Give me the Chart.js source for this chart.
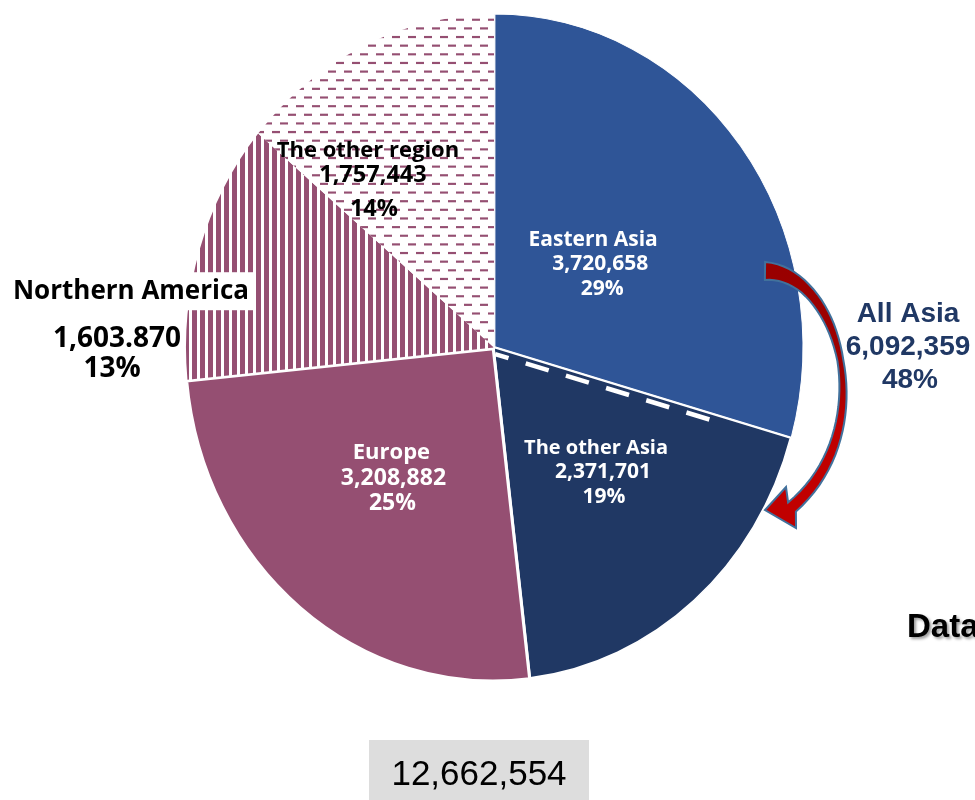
<!DOCTYPE html>
<html>
<head>
<meta charset="utf-8">
<title>Visitors by region</title>
<script src="https://cdn.jsdelivr.net/npm/chart.js@4.4.1/dist/chart.umd.min.js"></script>
<style>
  html, body { margin: 0; padding: 0; background: #fff; }
  #wrap { width: 975px; height: 800px; overflow: hidden; }
</style>
</head>
<body>
<div id="wrap"><canvas id="pie" width="975" height="800"></canvas></div>
<script>
const regions = ['Eastern Asia', 'The other Asia', 'Europe', 'Northern America', 'The other region'];
const visitors = [3720658, 2371701, 3208882, 1603870, 1757443];
// value text as printed on the slide (Northern America has a dot)
const visitorText = ['3,720,658', '2,371,701', '3,208,882', '1,603.870', '1,757,443'];
const asiaSlices = [0, 1];
const asiaTitle = 'All Asia';
const sourceWord = 'Data';

const BLUE = '#2f5597', NAVY = '#203864', PLUM = '#954f72';
const SY = 1.08; // the pie is drawn a bit taller than wide

const total = visitors.reduce((a, b) => a + b, 0);
const fmt = n => n.toLocaleString('en-US');
const pct = v => Math.round(v * 100 / total) + '%';

function stripes() {
  const c = document.createElement('canvas');
  c.width = 8; c.height = 8;
  const g = c.getContext('2d');
  g.fillStyle = '#fff'; g.fillRect(0, 0, 8, 8);
  g.fillStyle = PLUM; g.fillRect(0, 0, 5, 8);
  return g.createPattern(c, 'repeat');
}

function dashes() {
  const c = document.createElement('canvas');
  c.width = 16; c.height = 16;
  const g = c.getContext('2d');
  g.fillStyle = '#fff'; g.fillRect(0, 0, 16, 16);
  g.fillStyle = PLUM;
  g.fillRect(0, 3, 8, 2);
  g.fillRect(8, 11, 8, 2);
  return g.createPattern(c, 'repeat');
}

// label placement: mid angle at fraction f of the radius, then nudged
const labelStyle = [
  { color: '#fff', fonts: ['700 21px "Open Sans"', '700 21px "Open Sans"', '700 21px "Open Sans"'],
    f: 0.42, nudge: [0, 7], dx: [-4, 3, 5], dy: [-24, 0, 25] },
  { color: '#fff', fonts: ['700 20px "Open Sans"', '700 21px "Open Sans"', '700 21px "Open Sans"'],
    f: 0.5, nudge: [6, 4], dx: [-4, 3, 4], dy: [-24, 0, 25] },
  { color: '#fff', fonts: ['700 22px "Open Sans"', '700 23px "Open Sans"', '700 23px "Open Sans"'],
    f: 0.5, nudge: [-5, 8], dx: [-1, 1, 0], dy: [-26, 0, 25] },
  { color: '#000', fonts: ['700 26px "Open Sans"', '700 28px "Open Sans"', '700 28px "Open Sans"'],
    f: 1.2, nudge: [-24, 118], dx: [14, 0, -5], dy: [-48, 0, 30], box: true },
  { color: '#000', fonts: ['700 22px "Open Sans"', '700 23.5px "Open Sans"', '700 23.5px "Open Sans"'],
    f: 0.5, nudge: [-56, -15], dx: [-5, 0, 1], dy: [-25, 0, 34] }
];

function drawArrow(ctx, cx, cy) {
  // curved block arrow from Eastern Asia round to The other Asia
  const P = [[271, -76.5], [346, -75.5], [388, 82.5], [298, 159.5]].map(p => [cx + p[0], cy + p[1]]);
  const hwTable = [[0, 9], [0.2, 5.5], [0.5, 3], [0.75, 4.5], [1, 6]];
  const hw = t => {
    for (let i = 1; i < hwTable.length; i++) {
      const [t0, w0] = hwTable[i - 1], [t1, w1] = hwTable[i];
      if (t <= t1) return w0 + (w1 - w0) * (t - t0) / (t1 - t0);
    }
    return 6;
  };
  const pt = t => {
    const u = 1 - t;
    const a = u * u * u, b = 3 * u * u * t, c = 3 * u * t * t, d = t * t * t;
    return [a * P[0][0] + b * P[1][0] + c * P[2][0] + d * P[3][0],
            a * P[0][1] + b * P[1][1] + c * P[2][1] + d * P[3][1]];
  };
  const tan = t => {
    const u = 1 - t;
    const x = 3 * u * u * (P[1][0] - P[0][0]) + 6 * u * t * (P[2][0] - P[1][0]) + 3 * t * t * (P[3][0] - P[2][0]);
    const y = 3 * u * u * (P[1][1] - P[0][1]) + 6 * u * t * (P[2][1] - P[1][1]) + 3 * t * t * (P[3][1] - P[2][1]);
    const l = Math.hypot(x, y);
    return [x / l, y / l];
  };
  const outer = [], inner = [];
  const steps = 40;
  for (let i = 0; i <= steps; i++) {
    const t = i / steps, p = pt(t), d = tan(t), w = hw(t);
    const nx = -d[1], ny = d[0];
    outer.push([p[0] - nx * w, p[1] - ny * w]);
    inner.push([p[0] + nx * w, p[1] + ny * w]);
  }
  const base = P[3];
  ctx.save();
  ctx.beginPath();
  ctx.moveTo(outer[0][0], outer[0][1]);
  outer.forEach(p => ctx.lineTo(p[0], p[1]));
  ctx.lineTo(base[0] + 4, base[1] + 21);
  ctx.lineTo(base[0] - 27, base[1] + 3);
  ctx.lineTo(base[0] - 6, base[1] - 20);
  for (let i = inner.length - 1; i >= 0; i--) ctx.lineTo(inner[i][0], inner[i][1]);
  ctx.closePath();
  const grad = ctx.createLinearGradient(0, P[0][1], 0, base[1]);
  grad.addColorStop(0, '#990000');
  grad.addColorStop(0.45, '#a00000');
  grad.addColorStop(0.65, '#c00000');
  grad.addColorStop(1, '#c00000');
  ctx.fillStyle = grad;
  ctx.fill();
  ctx.lineJoin = 'miter';
  ctx.lineWidth = 2;
  ctx.strokeStyle = '#41719c';
  ctx.stroke();
  ctx.restore();
}

const slidePlugin = {
  id: 'slide',
  beforeDatasetsDraw(chart) {
    const arc = chart.getDatasetMeta(0).data[0];
    const ctx = chart.ctx;
    ctx.save();
    ctx.translate(0, arc.y);
    ctx.scale(1, SY);
    ctx.translate(0, -arc.y);
  },
  afterDatasetsDraw(chart) {
    const ctx = chart.ctx;
    ctx.restore();
    const arcs = chart.getDatasetMeta(0).data;
    const cx = arcs[0].x, cy = arcs[0].y, r = arcs[0].outerRadius;

    // dashed split between the two Asia slices
    const a = arcs[asiaSlices[0]].endAngle;
    let ux = Math.cos(a), uy = Math.sin(a) * SY;
    const n = Math.hypot(ux, uy);
    ux /= n; uy /= n;
    const px = -uy, py = ux, off = 6;
    ctx.save();
    ctx.beginPath();
    ctx.setLineDash([24, 18]);
    ctx.lineDashOffset = 10;
    ctx.lineWidth = 4.5;
    ctx.strokeStyle = '#fff';
    ctx.moveTo(cx + px * off + ux * 3, cy + py * off + uy * 3);
    ctx.lineTo(cx + px * off + ux * 230, cy + py * off + uy * 230);
    ctx.stroke();
    ctx.restore();

    // slice labels
    ctx.save();
    ctx.textAlign = 'center';
    ctx.textBaseline = 'alphabetic';
    arcs.forEach((arc, i) => {
      const s = labelStyle[i];
      const mid = (arc.startAngle + arc.endAngle) / 2;
      const x = cx + Math.cos(mid) * r * s.f + s.nudge[0];
      const y = cy + Math.sin(mid) * r * s.f * SY + s.nudge[1];
      const lines = [regions[i], visitorText[i], pct(visitors[i])];
      lines.forEach((txt, k) => {
        ctx.font = s.fonts[k];
        const lx = x + s.dx[k], ly = y + s.dy[k];
        if (s.box && k === 0) {
          const w = ctx.measureText(txt).width;
          ctx.fillStyle = '#fff';
          ctx.fillRect(lx - w / 2 - 4, ly - 27, w + 8, 38);
        }
        ctx.fillStyle = s.color;
        ctx.fillText(txt, lx, ly);
      });
    });
    ctx.restore();

    drawArrow(ctx, cx, cy);

    // combined Asia figure beside the arrow
    const asiaSum = asiaSlices.reduce((acc, i) => acc + visitors[i], 0);
    ctx.save();
    ctx.textAlign = 'center';
    ctx.fillStyle = NAVY;
    ctx.font = 'bold 28px "Liberation Sans"';
    ctx.fillText(asiaTitle, 908, 322);
    ctx.fillText(fmt(asiaSum), 908, 355);
    ctx.fillText(pct(asiaSum), 910, 388);
    ctx.restore();

    // source word, runs off the right edge
    ctx.save();
    ctx.font = 'bold 33px "Liberation Sans"';
    ctx.fillStyle = '#000';
    ctx.shadowColor = 'rgba(0,0,0,0.4)';
    ctx.shadowOffsetX = 2;
    ctx.shadowOffsetY = 2;
    ctx.shadowBlur = 3;
    ctx.fillText(sourceWord, 907, 637);
    ctx.restore();

    // grand total
    ctx.save();
    ctx.fillStyle = '#dddddd';
    ctx.fillRect(369, 740, 220, 60);
    ctx.fillStyle = '#000';
    ctx.font = '35px "Liberation Sans"';
    ctx.textAlign = 'center';
    ctx.fillText(fmt(total), 479, 785);
    ctx.restore();
  }
};

new Chart(document.getElementById('pie'), {
  type: 'pie',
  data: {
    labels: regions,
    datasets: [{
      data: visitors,
      backgroundColor: [BLUE, NAVY, PLUM, stripes(), dashes()],
      borderColor: '#fff',
      borderWidth: [1, 1.5, 3, 0, 0],
      offset: [4.5, 0, 5, 0, 0],
      clip: false
    }]
  },
  options: {
    responsive: false,
    animation: false,
    events: [],
    radius: 308,
    layout: { padding: { left: 186, right: 173, top: 39.5, bottom: 144.5 } },
    plugins: { legend: { display: false }, tooltip: { enabled: false } }
  },
  plugins: [slidePlugin]
});
</script>
</body>
</html>
